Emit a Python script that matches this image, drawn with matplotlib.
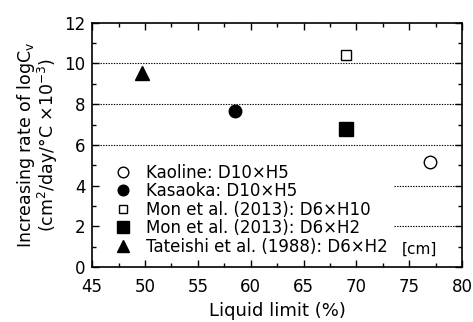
import matplotlib
matplotlib.use("Agg")
import matplotlib.pyplot as plt
from matplotlib.ticker import MultipleLocator

plt.rcParams['font.family'] = ['DejaVu Sans']
plt.rcParams['mathtext.fontset'] = 'dejavusans'

# data
labels = ["Kaoline: D10×H5", "Kasaoka: D10×H5", "Mon et al. (2013): D6×H10",
          "Mon et al. (2013): D6×H2", "Tateishi et al. (1988): D6×H2"]
liquid_limit = [77.0, 58.5, 69.0, 69.0, 49.7]
rate = [5.17, 7.68, 10.42, 6.76, 9.52]
markers = ["o", "o", "s", "s", "^"]
faces = ["white", "black", "white", "black", "black"]
sizes = [9, 9, 7.5, 9.5, 9.5]
full_grid = [6, 8, 10]
short_grid = [2, 4]

fig, ax = plt.subplots(figsize=(4.73, 3.22), dpi=100)
fig.subplots_adjust(left=0.195, right=0.977, top=0.93, bottom=0.17)

# dotted grid lines (the legend hides the left part of the lower ones)
dots = (0, (1.2, 1.2))
for yv in full_grid:
    ax.plot([45, 80], [yv, yv], color='black', lw=0.8, ls=dots, zorder=0)
for yv in short_grid:
    ax.plot([73.6, 80], [yv, yv], color='black', lw=0.8, ls=dots, zorder=0)

for x, y, m, fc, s, lab in zip(liquid_limit, rate, markers, faces, sizes, labels):
    ax.plot(x, y, m, mfc=fc, mec='black', mew=1.0, ms=s, ls='none', label=lab, zorder=3)

ax.set_xlim(45, 80)
ax.set_ylim(0, 12)
ax.xaxis.set_major_locator(MultipleLocator(5))
ax.xaxis.set_minor_locator(MultipleLocator(2.5))
ax.yaxis.set_major_locator(MultipleLocator(2))
ax.yaxis.set_minor_locator(MultipleLocator(1))
ax.tick_params(which='both', direction='in', top=True, right=True, labelsize=12)
ax.tick_params(which='major', length=5, width=1)
ax.tick_params(axis='x', which='major', pad=8)
ax.tick_params(axis='y', which='major', pad=5)
ax.tick_params(which='minor', length=3, width=1)
for sp in ax.spines.values():
    sp.set_linewidth(1.2)

ax.set_xlabel("Liquid limit (%)", fontsize=13, labelpad=4)
ax.set_ylabel("Increasing rate of logC$_\\mathregular{v}$\n(cm$^\\mathregular{2}$/day/°C ×10$^\\mathregular{-3}$)",
              fontsize=12.5, labelpad=3, linespacing=0.95)

leg = ax.legend(loc='lower left', bbox_to_anchor=(0.034, 0.027), fontsize=12,
                frameon=False, handletextpad=0.57, labelspacing=0.03,
                borderpad=0.3, markerscale=0.85, handlelength=1.6,
                borderaxespad=0.0)

ax.text(74.3, 0.5, "[cm]", fontsize=11, ha='left', va='bottom')

fig.savefig("out.png", dpi=100)
